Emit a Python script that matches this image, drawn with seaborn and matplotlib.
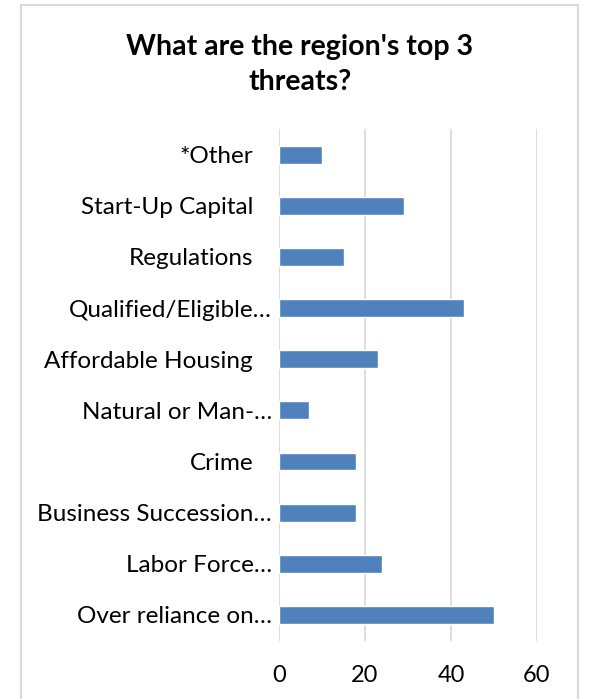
import numpy as np
import pandas as pd
import seaborn as sns
import matplotlib.pyplot as plt
from matplotlib.patches import Rectangle
from matplotlib.transforms import ScaledTranslation

threats = ["*Other", "Start-Up Capital", "Regulations", "Qualified/Eligible…",
           "Affordable Housing", "Natural or Man-…", "Crime",
           "Business Succession…", "Labor Force…", "Over reliance on…"]
counts = [10, 29, 15, 43, 23, 7, 18, 18, 24, 50]
x_ticks = [0, 20, 40, 60]

df = pd.DataFrame({"threat": threats, "count": counts})

sns.set_theme(style="white")
plt.rcParams["font.family"] = ["Lato", "DejaVu Sans"]

W, H = 597, 699
fig = plt.figure(figsize=(W / 100, H / 100), dpi=100)
ax = fig.add_axes([279 / W, 1 - 640.5 / H, (537 - 279) / W, (640.5 - 129) / H])

# chart frame (bottom edge cut off in the original screenshot)
fig.patches.append(Rectangle((20.5 / W, -0.05), (578 - 20.5) / W, 1.05 - 5 / H,
                             transform=fig.transFigure, fill=False,
                             edgecolor="#d9d9d9", linewidth=1.5))

sns.barplot(data=df, x="count", y="threat", orient="h", color="#4f81bd",
            width=0.35, saturation=1, ax=ax, zorder=3)

ax.set_xlim(0, 60)
ax.set_ylim(9.5, -0.5)
ax.set_xticks(x_ticks)
ax.xaxis.grid(True, color="#d4d4d4", linewidth=1.1, zorder=0)
ax.yaxis.grid(False)
for s in ax.spines.values():
    s.set_visible(False)
ax.set_xlabel("")
ax.set_ylabel("")
ax.tick_params(axis="x", length=0, pad=17.5, labelsize=17, labelcolor="black")
ax.tick_params(axis="y", length=0, pad=5, labelsize=17.5, labelcolor="black")

# labels without ellipsis sit a little further from the axis, like Excel does
for lab in ax.get_yticklabels():
    if not lab.get_text().endswith("…"):
        lab.set_transform(lab.get_transform() + ScaledTranslation(-0.19, 0, fig.dpi_scale_trans))

fig.text(300 / W, 1 - 47 / H, "What are the region's top 3", ha="center",
         va="center", fontsize=20.5, fontweight="bold", color="black")
fig.text(300 / W, 1 - 82 / H, "threats?", ha="center",
         va="center", fontsize=20.5, fontweight="bold", color="black")

fig.savefig("out.png", dpi=100)
